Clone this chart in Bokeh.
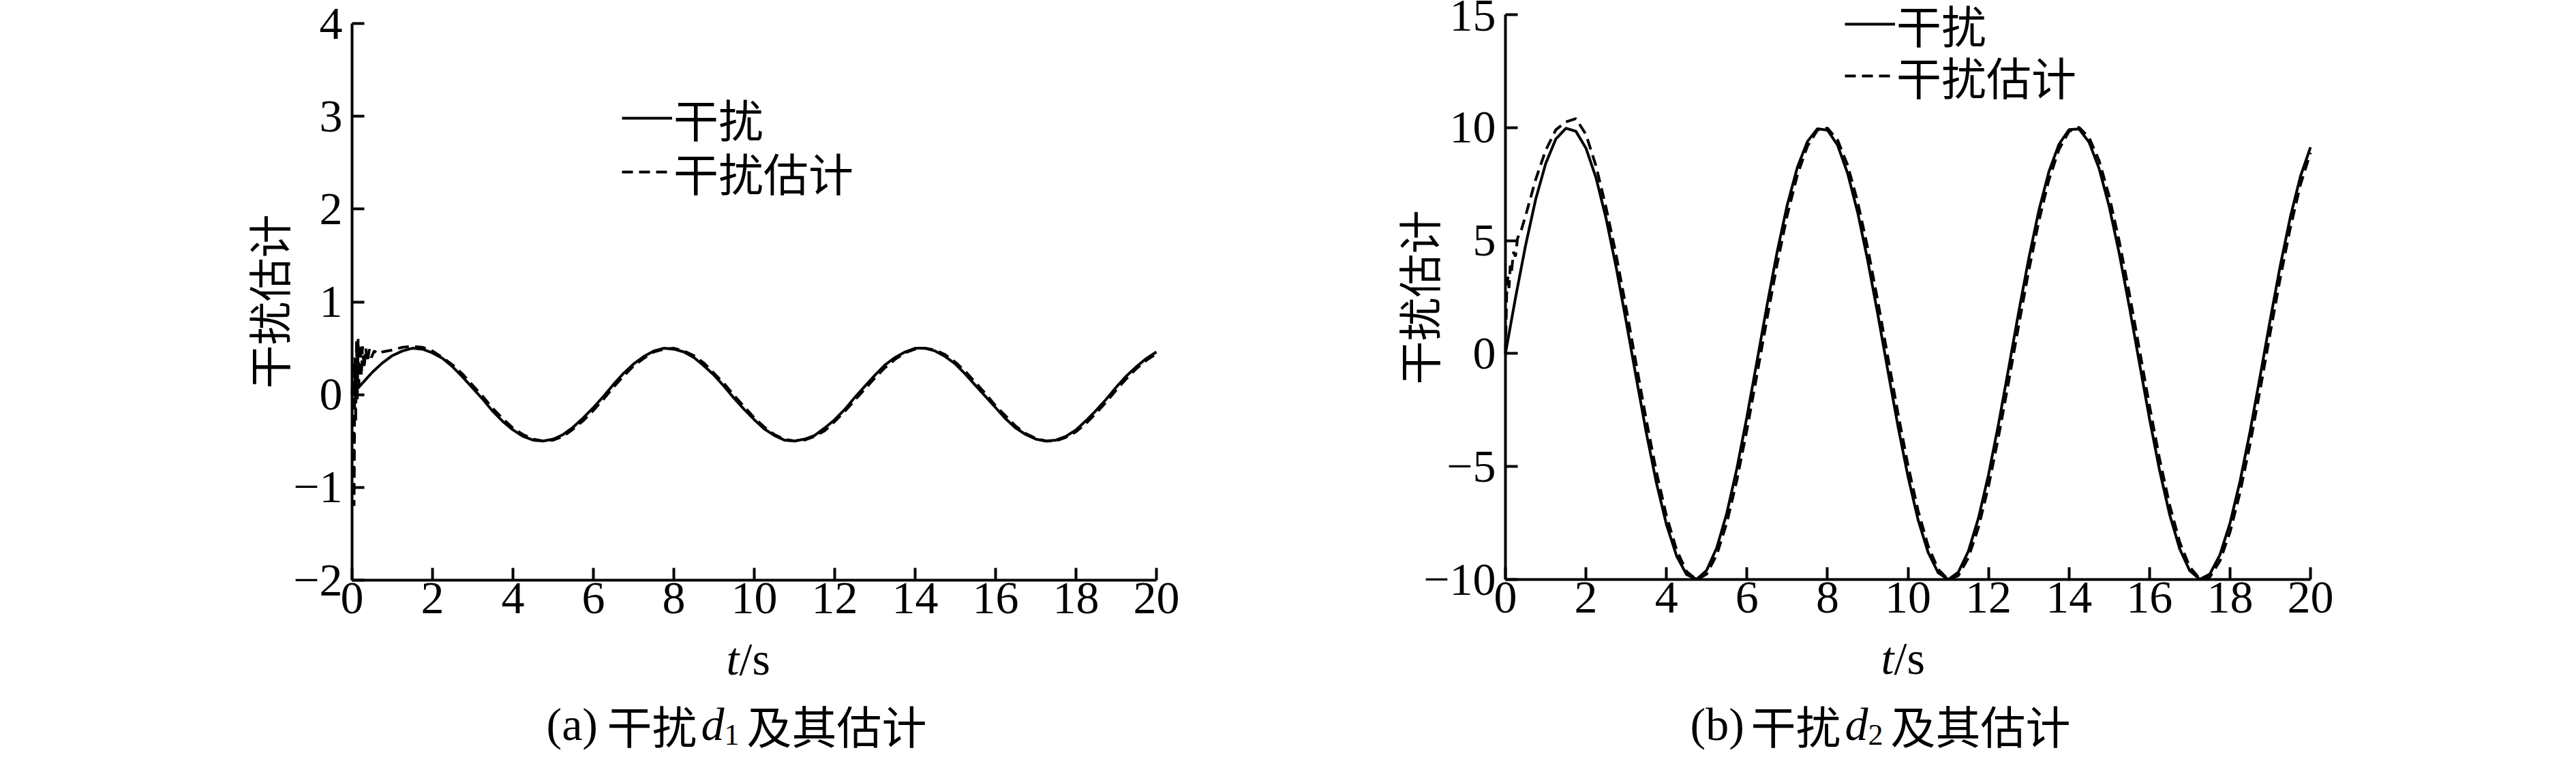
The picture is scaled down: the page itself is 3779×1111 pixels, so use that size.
from bokeh.plotting import figure
from bokeh.models import Legend, LegendItem, Label, FixedTicker, Range1d, LinearAxis
from bokeh.layouts import row
from bokeh.embed import file_html
from bokeh.resources import INLINE
from bokeh.core.properties import value

# ---------------- data ----------------
T = [i * 0.25 for i in range(81)]          # sampling grid, t = 0 ... 20 s

# (a) disturbance d1 and its estimate
D1 = [0.00, 0.12, 0.24, 0.34, 0.42, 0.47, 0.50, 0.49, 0.45, 0.39,
      0.30, 0.19, 0.07, -0.05, -0.18, -0.29, -0.38, -0.45, -0.49, -0.50,
      -0.48, -0.43, -0.35, -0.25, -0.14, -0.02, 0.11, 0.23, 0.33, 0.41,
      0.47, 0.50, 0.49, 0.46, 0.40, 0.31, 0.21, 0.09, -0.04, -0.16,
      -0.27, -0.37, -0.44, -0.49, -0.50, -0.48, -0.44, -0.36, -0.27, -0.16,
      -0.03, 0.09, 0.21, 0.32, 0.40, 0.46, 0.50, 0.50, 0.47, 0.41,
      0.33, 0.22, 0.10, -0.02, -0.14, -0.26, -0.36, -0.43, -0.48, -0.50,
      -0.49, -0.45, -0.38, -0.28, -0.17, -0.05, 0.08, 0.20, 0.30, 0.39,
      0.46]
E1_T_START = [0, 0.03, 0.05, 0.07, 0.09, 0.11, 0.13, 0.15, 0.17, 0.2, 0.23, 0.26,
              0.3, 0.34, 0.38, 0.43, 0.48, 0.55, 0.65, 0.75, 1.0, 1.25, 1.5,
              1.75, 2.0, 2.25]
E1_START = [0.0, 0.35, -1.2, 0.4, -0.3, 0.58, -0.05, 0.6, 0.1, 0.55, 0.2, 0.52,
            0.28, 0.5, 0.35, 0.49, 0.4, 0.47, 0.44, 0.46, 0.48, 0.51, 0.52,
            0.51, 0.47, 0.40]
E1_REST = [0.32, 0.22, 0.10, -0.02, -0.15, -0.26, -0.36, -0.43, -0.48, -0.50,
           -0.49, -0.45, -0.37, -0.28, -0.17, -0.05, 0.08, 0.20, 0.31, 0.39,
           0.46, 0.49, 0.50, 0.47, 0.42, 0.34, 0.23, 0.12, -0.01, -0.13,
           -0.25, -0.35, -0.43, -0.48, -0.50, -0.49, -0.45, -0.39, -0.29, -0.18,
           -0.06, 0.06, 0.18, 0.29, 0.38, 0.45, 0.49, 0.50, 0.48, 0.43,
           0.35, 0.25, 0.13, 0.01, -0.12, -0.23, -0.34, -0.42, -0.47, -0.50,
           -0.50, -0.46, -0.40, -0.31, -0.20, -0.08, 0.05, 0.17, 0.28, 0.37,
           0.44]

# (b) disturbance d2 and its estimate
D2 = [0.00, 2.47, 4.79, 6.82, 8.41, 9.49, 9.97, 9.84, 9.09, 7.78,
      5.98, 3.82, 1.41, -1.08, -3.51, -5.72, -7.57, -8.95, -9.78, -9.99,
      -9.59, -8.59, -7.06, -5.08, -2.79, -0.33, 2.15, 4.50, 6.57, 8.23,
      9.38, 9.95, 9.89, 9.23, 7.98, 6.25, 4.12, 1.74, -0.75, -3.20,
      -5.44, -7.35, -8.80, -9.70, -10.00, -9.68, -8.75, -7.29, -5.37, -3.11,
      -0.66, 1.83, 4.20, 6.32, 8.04, 9.26, 9.91, 9.94, 9.35, 8.18,
      6.50, 4.42, 2.07, -0.42, -2.88, -5.16, -7.12, -8.64, -9.61, -9.99,
      -9.76, -8.91, -7.51, -5.65, -3.44, -0.99, 1.50, 3.90, 6.05, 7.84,
      9.13]
E2_T_START = [0, 0.03, 0.06, 0.09, 0.12, 0.15, 0.2, 0.25, 0.3, 0.4, 0.5, 0.75,
              1.0, 1.25, 1.5, 1.75, 2.0, 2.25]
E2_START = [0.0, 2.6, 3.4, 2.9, 3.9, 3.6, 4.5, 4.3, 5.1, 5.5, 6.1, 7.7,
            9.0, 9.9, 10.25, 10.4, 9.7, 8.3]
E2_REST = [6.46, 4.37, 2.00, -0.48, -2.95, -5.23, -7.18, -8.68, -9.65, -10.01,
           -9.76, -8.90, -7.49, -5.60, -3.37, -0.93, 1.56, 3.96, 6.12, 7.89,
           9.17, 9.89, 9.98, 9.46, 8.34, 6.72, 4.67, 2.33, -0.15, -2.63,
           -4.94, -6.94, -8.51, -9.55, -10.00, -9.83, -9.04, -7.70, -5.88, -3.68,
           -1.26, 1.24, 3.66, 5.85, 7.68, 9.03, 9.83, 10.01, 9.56, 8.53,
           6.96, 4.96, 2.66, 0.18, -2.31, -4.65, -6.70, -8.34, -9.44, -9.97,
           -9.89, -9.18, -7.91, -6.15, -4.00, -1.59, 0.91, 3.35, 5.57, 7.47,
           8.89]

X_TICKS = [0, 2, 4, 6, 8, 10, 12, 14, 16, 18, 20]
Y1_TICKS = [-2, -1, 0, 1, 2, 3, 4]
Y2_TICKS = [-10, -5, 0, 5, 10, 15]
LEGEND_LABELS = ["干扰", "干扰估计"]
Y_LABEL = "干扰估计"
CAPTIONS = [("(a)", "1"), ("(b)", "2")]

SERIF = "Liberation Serif"
CJK = "Noto Sans CJK SC"

# ---------------- layout (page pixels) ----------------
H = 1110
LEG_HALF = 44


def make_fig(fig_x, width, x_px, y_px, x_lim, y_lim, y_ticks):
    """x_px/y_px: page pixel positions of the axis limits x_lim / y_lim."""
    (px0, px1), (x0, x1) = x_px, x_lim
    sx = (px1 - px0) / (x1 - x0)
    xs = x0 - (px0 - fig_x) / sx
    xe = x0 + (fig_x + width - px0) / sx
    (ptop, pbot), (ybot, ytop) = y_px, y_lim
    sy = (pbot - ptop) / (ytop - ybot)
    ye = ytop + ptop / sy
    ys = ybot - (H - pbot) / sy
    p = figure(x_range=Range1d(xs, xe), y_range=Range1d(ys, ye),
               frame_width=width, frame_height=H,
               min_border=0, x_axis_type=None, y_axis_type=None,
               output_backend="svg", toolbar_location=None, tools="")
    p.outline_line_color = None
    p.background_fill_color = "white"
    p.border_fill_color = "white"
    xa = LinearAxis(fixed_location=ybot, bounds=(x0, x1), ticker=FixedTicker(ticks=X_TICKS))
    ya = LinearAxis(fixed_location=x0, bounds=(ybot, ytop), ticker=FixedTicker(ticks=y_ticks))
    for ax in (xa, ya):
        ax.axis_line_width = 4
        ax.axis_line_color = "black"
        ax.major_tick_line_width = 4
        ax.major_tick_line_color = "black"
        ax.major_tick_in = 18
        ax.major_tick_out = 0
        ax.minor_tick_line_color = None
        ax.major_label_text_font = SERIF
        ax.major_label_text_font_size = "68px"
        ax.major_label_text_color = "black"
    ya.major_label_overrides = {t: ("\u2212" + str(abs(t))) for t in y_ticks if t < 0}
    xa.major_label_standoff = 4
    ya.major_label_standoff = 14
    p.add_layout(xa, "below")
    p.add_layout(ya, "left")
    return p


def put(p, fig_x, px, py, text, font, size, style="normal", align="left", angle=0):
    p.add_layout(Label(x=px - fig_x, y=H - py, x_units="screen", y_units="screen",
                       text=text, angle=angle, angle_units="deg",
                       text_align=align, text_baseline="middle", text_font=font,
                       text_font_style=style, text_font_size=size, text_color="black"))


def decorate(p, fig_x, r_solid, r_dash, leg_px, leg_py, ylab, xlab, cap, cap_x):
    for r, lab, cy in ((r_solid, LEGEND_LABELS[0], leg_py[0]), (r_dash, LEGEND_LABELS[1], leg_py[1])):
        leg = Legend(items=[LegendItem(label=value(lab), renderers=[r])],
                     location=(leg_px - fig_x, H - (cy + LEG_HALF)), border_line_color=None,
                     background_fill_alpha=0, padding=0, margin=0, spacing=0,
                     glyph_width=74, glyph_height=40, label_standoff=2,
                     label_text_font=CJK, label_text_font_size="66px",
                     label_text_color="black")
        p.add_layout(leg)
    put(p, fig_x, ylab[0], ylab[1], Y_LABEL, CJK, "64px", align="center", angle=90)
    put(p, fig_x, xlab[0], xlab[1], "t", SERIF, "68px", style="italic", align="right")
    put(p, fig_x, xlab[0], xlab[1], "/s", SERIF, "68px")
    cy = 1062
    put(p, fig_x, cap_x, cy, cap[0], SERIF, "68px")
    put(p, fig_x, cap_x + 89, cy, "干扰", CJK, "66px")
    put(p, fig_x, cap_x + 227, cy, "d", SERIF, "68px", style="italic")
    put(p, fig_x, cap_x + 261, cy + 16, cap[1], SERIF, "44px")
    put(p, fig_x, cap_x + 294, cy, "及其估计", CJK, "66px")


# ---------------- figure (a) ----------------
FX1, W1 = 0, 1900
p1 = make_fig(FX1, W1, (516, 1696), (34, 851), (0, 20), (-2, 4), Y1_TICKS)
r1s = p1.line(T, D1, line_color="black", line_width=4)
r1d = p1.line(E1_T_START + T[10:], E1_START + E1_REST, line_color="black",
              line_width=4, line_dash="16 9")
decorate(p1, FX1, r1s, r1d, 912, (177, 256), (391, 442), (1084, 966), CAPTIONS[0], 801)

# ---------------- figure (b) ----------------
FX2, W2 = 1900, 1870
p2 = make_fig(FX2, W2, (2208, 3389), (21, 850), (0, 20), (-10, 15), Y2_TICKS)
r2s = p2.line(T, D2, line_color="black", line_width=4)
r2d = p2.line(E2_T_START + T[10:], E2_START + E2_REST, line_color="black",
              line_width=4, line_dash="16 9")
decorate(p2, FX2, r2s, r2d, 2706, (39, 115), (2078, 436), (2778, 965), CAPTIONS[1], 2479)

layout = row(p1, p2)
open("out.html", "w").write(file_html(layout, INLINE))
